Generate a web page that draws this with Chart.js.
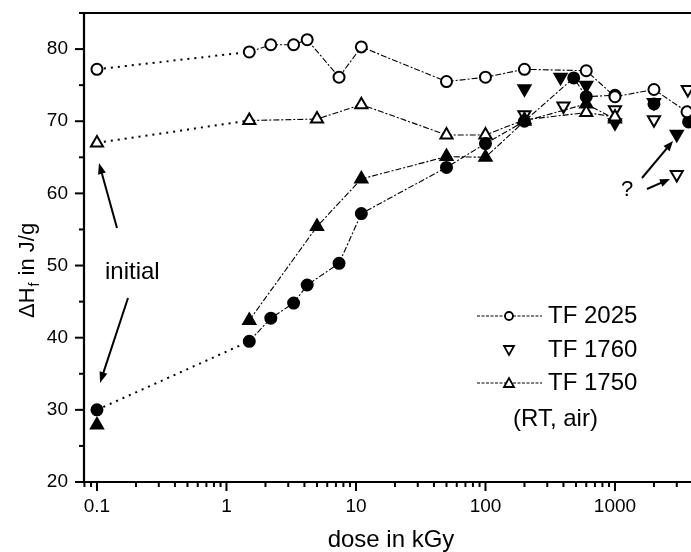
<!DOCTYPE html>
<html>
<head>
<meta charset="utf-8">
<script src="https://cdn.jsdelivr.net/npm/chart.js@4/dist/chart.umd.min.js"></script>
<style>
html,body{margin:0;padding:0;background:#fff;}
#wrap{width:691px;height:552px;position:relative;}
</style>
</head>
<body>
<div id="wrap"><canvas id="c" width="691" height="552"></canvas></div>
<script>
// ---- data (dose in kGy, ΔHf in J/g) ----
const doseTF2025 = [0.1, 1.5, 2.2, 3.3, 4.2, 7.4, 11, 50, 100, 200, 600, 1000, 2000, 3600];
const hTF2025    = [77.2, 79.6, 80.6, 80.6, 81.3, 76.1, 80.3, 75.5, 76.1, 77.2, 77.0, 73.4, 74.4, 71.3];

const doseTF2025f = [0.1, 1.5, 2.2, 3.3, 4.2, 7.4, 11, 50, 100, 200, 480, 600, 1000, 2000, 3700];
const hTF2025f    = [30.0, 39.5, 42.7, 44.8, 47.3, 50.3, 57.2, 63.6, 66.9, 70.0, 76.0, 73.4, 73.6, 72.4, 69.9];

const doseTF1760 = [200, 400, 1000, 2000, 3000, 3650];
const hTF1760    = [70.9, 72.1, 71.6, 70.2, 62.6, 74.4];

const doseTF1760f = [200, 380, 600, 1000, 2000, 3000];
const hTF1760f    = [74.5, 76.1, 75.0, 69.8, 72.6, 68.2];

const doseTF1750 = [0.1, 1.5, 5, 11, 50, 100, 200, 600, 1000];
const hTF1750    = [67.0, 70.1, 70.3, 72.3, 68.1, 68.1, 70.2, 71.2, 70.6];

const doseTF1750f = [0.1, 1.5, 5, 11, 50, 100, 200, 600, 1000];
const hTF1750f    = [27.9, 42.4, 55.4, 62.0, 65.1, 65.0, 70.0, 72.4, 70.3];

const xTickLabels = [0.1, 1, 10, 100, 1000];
const yTickLabels = [20, 30, 40, 50, 60, 70, 80];

const FONT = "'Liberation Sans', Arial, Helvetica, sans-serif";
const pts = (xs, ys) => xs.map((x, i) => ({x: x, y: ys[i]}));

const DOT = [2, 5], DASHDOT = [6, 2, 2, 2];

function seg(noFirst, stopAfter) {
  return {
    borderDash: ctx => ctx.p0DataIndex === 0 ? DOT : DASHDOT,
    borderWidth: ctx => ctx.p0DataIndex === 0 ? 2 : 1.1,
    borderColor: ctx => {
      if (noFirst && ctx.p0DataIndex === 0) return 'rgba(0,0,0,0)';
      if (stopAfter !== undefined && ctx.p0.parsed.x >= stopAfter) return 'rgba(0,0,0,0)';
      return '#000';
    }
  };
}

const base = {borderColor: '#000', pointBorderColor: '#000', pointBorderWidth: 2, clip: false};

const datasets = [
  Object.assign({}, base, {label: 'TF 2025', data: pts(doseTF2025, hTF2025), showLine: true,
    pointStyle: 'circle', pointRadius: 5.5, pointBackgroundColor: '#fff', segment: seg(false)}),
  Object.assign({}, base, {label: 'TF 2025 filled', data: pts(doseTF2025f, hTF2025f), showLine: true,
    pointStyle: 'circle', pointRadius: 5.5, pointBackgroundColor: '#000', segment: seg(false, 1000)}),
  Object.assign({}, base, {label: 'TF 1750', data: pts(doseTF1750, hTF1750), showLine: true,
    pointStyle: 'triangle', pointRadius: 7, pointBackgroundColor: '#fff', segment: seg(false)}),
  Object.assign({}, base, {label: 'TF 1750 filled', data: pts(doseTF1750f, hTF1750f), showLine: true,
    pointStyle: 'triangle', pointRadius: 7, pointBackgroundColor: '#000', segment: seg(true)}),
  Object.assign({}, base, {label: 'TF 1760', data: pts(doseTF1760, hTF1760), showLine: false,
    pointStyle: 'triangle', pointRotation: 180, pointRadius: 7, pointBackgroundColor: '#fff'}),
  Object.assign({}, base, {label: 'TF 1760 filled', data: pts(doseTF1760f, hTF1760f), showLine: false,
    pointStyle: 'triangle', pointRotation: 180, pointRadius: 7, pointBackgroundColor: '#000'})
];

function arrow(ctx, x1, y1, x2, y2, head) {
  ctx.save();
  ctx.strokeStyle = '#000'; ctx.fillStyle = '#000'; ctx.lineWidth = 2; ctx.setLineDash([]);
  const a = Math.atan2(y2 - y1, x2 - x1);
  const h = head || 11;
  ctx.beginPath();
  ctx.moveTo(x1, y1);
  ctx.lineTo(x2 - Math.cos(a) * h * 0.8, y2 - Math.sin(a) * h * 0.8);
  ctx.stroke();
  ctx.beginPath();
  ctx.moveTo(x2, y2);
  ctx.lineTo(x2 - h * Math.cos(a) + 4 * Math.sin(a), y2 - h * Math.sin(a) - 4 * Math.cos(a));
  ctx.lineTo(x2 - h * Math.cos(a) - 4 * Math.sin(a), y2 - h * Math.sin(a) + 4 * Math.cos(a));
  ctx.closePath();
  ctx.fill();
  ctx.restore();
}

const decor = {
  id: 'decor',
  afterDraw(chart) {
    const ctx = chart.ctx, ca = chart.chartArea;
    const xs = chart.scales.x, ys = chart.scales.y;
    ctx.save();
    ctx.strokeStyle = '#000'; ctx.setLineDash([]);
    // frame: left, bottom, top
    ctx.lineWidth = 2.2;
    ctx.beginPath();
    ctx.moveTo(ca.right + 2, ca.top); ctx.lineTo(ca.left, ca.top);
    ctx.lineTo(ca.left, ca.bottom); ctx.lineTo(ca.right + 2, ca.bottom);
    ctx.stroke();
    // x ticks
    ctx.lineWidth = 2;
    for (let e = -2; e <= 3; e++) {
      for (let m = 1; m <= 9; m++) {
        const v = m * Math.pow(10, e);
        if (v < xs.min || v > xs.max) continue;
        const px = xs.getPixelForValue(v);
        const len = m === 1 ? 9 : 5;
        ctx.beginPath(); ctx.moveTo(px, ca.bottom); ctx.lineTo(px, ca.bottom + len); ctx.stroke();
      }
    }
    // y ticks
    for (let v = 20; v <= 85; v += 5) {
      const py = ys.getPixelForValue(v);
      const len = v % 10 === 0 ? 9 : 5;
      ctx.beginPath(); ctx.moveTo(ca.left, py); ctx.lineTo(ca.left - len, py); ctx.stroke();
    }
    // axis titles
    ctx.fillStyle = '#000';
    ctx.font = '24px ' + FONT;
    ctx.textAlign = 'center'; ctx.textBaseline = 'alphabetic';
    ctx.fillText('dose in kGy', 391, 547);

    ctx.save();
    ctx.translate(34, 318);
    ctx.rotate(-Math.PI / 2);
    ctx.textBaseline = 'alphabetic'; ctx.textAlign = 'left';
    ctx.font = '22px ' + FONT;
    let w = 0;
    ctx.fillText('\u0394H', 0, 0); w += ctx.measureText('\u0394H').width;
    ctx.font = '14px ' + FONT;
    ctx.fillText('f', w + 1, 5); w += ctx.measureText('f').width + 2;
    ctx.font = '22px ' + FONT;
    ctx.fillText(' in J/g', w, 0);
    ctx.restore();

    // annotations
    ctx.font = '24px ' + FONT;
    ctx.textAlign = 'left'; ctx.textBaseline = 'middle';
    ctx.fillText('initial', 105, 272);
    arrow(ctx, 117, 228, 99, 163);
    arrow(ctx, 128, 298, 100, 383);
    ctx.font = '22px ' + FONT;
    ctx.fillText('?', 621, 190);
    arrow(ctx, 642, 178, 673, 141, 10);
    arrow(ctx, 647, 189, 670, 179, 10);

    // legend
    const lx1 = 477, lx2 = 542, mx = 509, tx = 548;
    const rows = [316, 350, 383];
    ctx.lineWidth = 1.1; ctx.setLineDash([3, 1.5]);
    [rows[0], rows[2]].forEach(y => {
      ctx.beginPath(); ctx.moveTo(lx1, y); ctx.lineTo(lx2, y); ctx.stroke();
    });
    ctx.setLineDash([]);
    ctx.lineWidth = 1.8;
    ctx.fillStyle = '#fff';
    ctx.beginPath(); ctx.arc(mx, rows[0], 4, 0, Math.PI * 2); ctx.fill(); ctx.stroke();
    ctx.beginPath(); ctx.moveTo(mx - 5, rows[1] - 4); ctx.lineTo(mx + 5, rows[1] - 4); ctx.lineTo(mx, rows[1] + 5); ctx.closePath(); ctx.fill(); ctx.stroke();
    ctx.beginPath(); ctx.moveTo(mx - 5, rows[2] + 4); ctx.lineTo(mx + 5, rows[2] + 4); ctx.lineTo(mx, rows[2] - 5); ctx.closePath(); ctx.fill(); ctx.stroke();
    ctx.fillStyle = '#000';
    ctx.font = '24px ' + FONT;
    ctx.textBaseline = 'middle';
    ctx.fillText('TF 2025', tx, rows[0]);
    ctx.fillText('TF 1760', tx, rows[1]);
    ctx.fillText('TF 1750', tx, rows[2]);
    ctx.fillText('(RT, air)', 513, 419);
    ctx.restore();
  }
};

new Chart(document.getElementById('c'), {
  type: 'scatter',
  data: {datasets: datasets},
  options: {
    responsive: false,
    animation: false,
    devicePixelRatio: 1,
    layout: {autoPadding: false, padding: {top: 13, right: 0, left: 0, bottom: 0}},
    plugins: {legend: {display: false}, tooltip: {enabled: false}},
    scales: {
      x: {
        type: 'logarithmic', min: 0.0794, max: 3864,
        grid: {display: false}, border: {display: false},
        afterBuildTicks: s => { s.ticks = xTickLabels.map(v => ({value: v})); },
        afterFit: s => { s.height = 70; s.paddingLeft = 0; s.paddingRight = 0; },
        ticks: {color: '#000', font: {family: FONT, size: 19}, padding: 5, maxRotation: 0, autoSkip: false,
          callback: v => String(v)}
      },
      y: {
        min: 20, max: 85,
        grid: {display: false}, border: {display: false},
        afterBuildTicks: s => { s.ticks = yTickLabels.map(v => ({value: v})); },
        afterFit: s => { s.width = 84; s.paddingTop = 0; s.paddingBottom = 0; },
        ticks: {color: '#000', font: {family: FONT, size: 19}, padding: 8, callback: v => String(v)}
      }
    }
  },
  plugins: [decor]
});
</script>
</body>
</html>
